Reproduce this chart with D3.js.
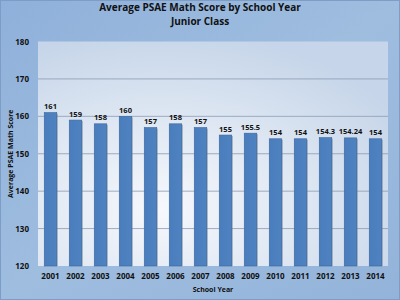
<!DOCTYPE html>
<html lang="en">
<head>
  <meta charset="UTF-8" />
  <title>Average PSAE Math Score by School Year</title>
  <script src="https://cdn.jsdelivr.net/npm/d3@7"></script>
  <style>
    html, body { margin: 0; padding: 0; background: #fff; }
    svg { display: block; }
    text { font-family: "Open Sans", "Liberation Sans", sans-serif; font-weight: bold; fill: #111; }
  </style>
</head>
<body>
  <script>
    // ------ Data ------
    const years = ["2001", "2002", "2003", "2004", "2005", "2006", "2007",
                   "2008", "2009", "2010", "2011", "2012", "2013", "2014"];
    const scores = [161, 159, 158, 160, 157, 158, 157, 155, 155.5, 154, 154, 154.3, 154.24, 154];
    const yTicks = [120, 130, 140, 150, 160, 170, 180];

    const width = 400, height = 300;
    const plot = { left: 38, right: 388, top: 41.5, bottom: 266 };

    const svg = d3.select("body").append("svg")
      .attr("width", width)
      .attr("height", height);

    // ------ Gradients ------
    const defs = svg.append("defs");
    const bg = defs.append("linearGradient").attr("id", "bg")
      .attr("x1", 0).attr("y1", 0).attr("x2", 1).attr("y2", 1);
    bg.append("stop").attr("offset", "0%").attr("stop-color", "#8fb0da");
    bg.append("stop").attr("offset", "50%").attr("stop-color", "#9ebddf");
    bg.append("stop").attr("offset", "100%").attr("stop-color", "#94b3da");

    const pa = defs.append("radialGradient").attr("id", "pa")
      .attr("cx", "35%").attr("cy", "75%").attr("r", "80%");
    pa.append("stop").attr("offset", "0%").attr("stop-color", "#f6f8fc");
    pa.append("stop").attr("offset", "60%").attr("stop-color", "#dae4f1");
    pa.append("stop").attr("offset", "100%").attr("stop-color", "#c6d5e9");

    const barGrad = defs.append("linearGradient").attr("id", "bar")
      .attr("x1", 0).attr("y1", 0).attr("x2", 1).attr("y2", 0);
    barGrad.append("stop").attr("offset", "0%").attr("stop-color", "#4a7dbd");
    barGrad.append("stop").attr("offset", "100%").attr("stop-color", "#4f82c0");

    // ------ Background ------
    svg.append("rect")
      .attr("x", 0.5).attr("y", 0.5)
      .attr("width", width - 1).attr("height", height - 1)
      .attr("fill", "url(#bg)")
      .attr("stroke", "#7d9cc6");

    svg.append("rect")
      .attr("x", plot.left).attr("y", plot.top)
      .attr("width", plot.right - plot.left).attr("height", plot.bottom - plot.top)
      .attr("fill", "url(#pa)");

    // ------ Scales ------
    const x = d3.scaleBand().domain(years).range([plot.left, plot.right]).paddingInner(0.5).paddingOuter(0.25);
    const y = d3.scaleLinear().domain([120, 180]).range([plot.bottom, plot.top]);

    // ------ Gridlines ------
    svg.append("g")
      .selectAll("line")
      .data(yTicks.slice(1, -1))
      .join("line")
      .attr("x1", plot.left).attr("x2", plot.right)
      .attr("y1", d => y(d)).attr("y2", d => y(d))
      .attr("stroke", "#8a9bb3")
      .attr("stroke-width", 0.8);

    // ------ Axes ------
    const yAxis = svg.append("g")
      .attr("transform", `translate(${plot.left},0)`)
      .call(d3.axisLeft(y).tickValues(yTicks).tickSize(0).tickPadding(9));
    yAxis.select(".domain").remove();
    yAxis.selectAll("text").style("font-size", "8px").attr("fill", "#111");

    const xAxis = svg.append("g")
      .attr("transform", `translate(0,${plot.bottom})`)
      .call(d3.axisBottom(x).tickSize(0).tickPadding(7));
    xAxis.select(".domain").remove();
    xAxis.selectAll("text").style("font-size", "8px").attr("fill", "#111");

    // ------ Bars ------
    const bars = years.map((yr, i) => ({ year: yr, value: scores[i] }));

    svg.append("g")
      .selectAll("rect")
      .data(bars)
      .join("rect")
      .attr("x", d => x(d.year) + 1)
      .attr("y", d => y(d.value) + 1)
      .attr("width", x.bandwidth())
      .attr("height", d => plot.bottom - y(d.value) - 1)
      .attr("fill", "#6f7f95")
      .attr("opacity", 0.6);

    svg.append("g")
      .selectAll("rect")
      .data(bars)
      .join("rect")
      .attr("x", d => x(d.year))
      .attr("y", d => y(d.value))
      .attr("width", x.bandwidth())
      .attr("height", d => plot.bottom - y(d.value))
      .attr("fill", "url(#bar)")
      .attr("stroke", "#3b679c")
      .attr("stroke-width", 0.6);

    // ------ Value labels ------
    svg.append("g")
      .selectAll("text")
      .data(bars)
      .join("text")
      .attr("x", d => x(d.year) + x.bandwidth() / 2)
      .attr("y", d => y(d.value) - 3.5)
      .attr("text-anchor", "middle")
      .style("font-size", "7.5px")
      .text(d => d.value);

    // ------ Titles ------
    svg.append("text")
      .attr("x", 200).attr("y", 11)
      .attr("text-anchor", "middle")
      .style("font-size", "10px")
      .text("Average PSAE Math Score by School Year");
    svg.append("text")
      .attr("x", 200).attr("y", 24.5)
      .attr("text-anchor", "middle")
      .style("font-size", "10px")
      .text("Junior Class");

    svg.append("text")
      .attr("x", (plot.left + plot.right) / 2).attr("y", 292)
      .attr("text-anchor", "middle")
      .style("font-size", "7px")
      .text("School Year");

    svg.append("text")
      .attr("transform", `translate(13,${(plot.top + plot.bottom) / 2}) rotate(-90)`)
      .attr("text-anchor", "middle")
      .style("font-size", "7px")
      .text("Average PSAE Math Score");
  </script>
</body>
</html>
